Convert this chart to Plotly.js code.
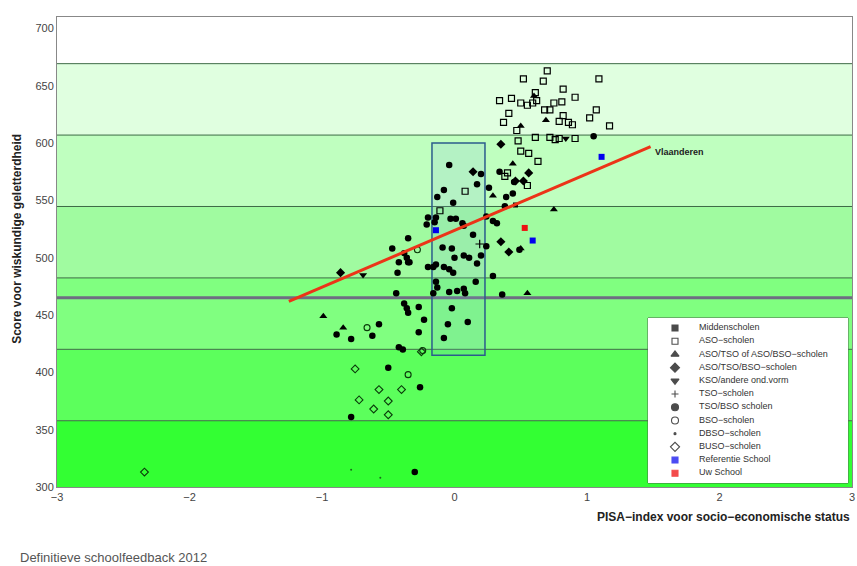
<!DOCTYPE html>
<html><head><meta charset="utf-8">
<script src="https://cdn.plot.ly/plotly-3.0.1.min.js"></script>
<style>html,body{margin:0;padding:0;background:#fff}#chart{width:857px;height:566px}</style>
</head><body><div id="chart"></div>
<script>
// ---- data ----
const asoX = [0.70,0.52,1.09,0.67,0.61,0.82,0.34,0.43,0.50,0.55,0.59,0.62,0.75,0.81,0.91,0.72,0.68,0.41,0.37,0.82,0.86,0.89,0.79,1.02,1.07,1.17,0.47,0.61,0.72,0.76,0.79,0.91,0.48,0.50,0.56,0.63,0.38,0.40,0.55,0.08,-0.11];
const asoY = [663,656,656,654,644,647,637,639,635,633,635,637,635,636,640,629,629,626,618,624,618,616,619,622,629,615,611,605,605,603,604,604,602,593,591,584,571,574,563,558,541];
const triX = [0.60,0.69,0.50,0.44,0.29,0.75,0.50,0.55,-0.99,-0.84];
const triY = [641,620,615,582,554,542,508,469,449,439];
const diaX = [0.35,0.56,0.52,0.14,0.41,0.35,-0.86,0.46];
const diaY = [599,574,567,575,505,514,487,567];
const ksoX = [0.84,-0.69];
const ksoY = [604,485];
const tsoX = [0.19];
const tsoY = [512];
const midX = [0.46];
const midY = [546];
const bsoX = [-0.28,-0.66,-0.24,-0.35];
const bsoY = [507,439,419,398];
const dbsoX = [-0.78,-0.56];
const dbsoY = [315,308];
const busoX = [-2.34,-0.75,-0.57,-0.40,-0.72,-0.50,-0.61,-0.50,-0.25];
const busoY = [313,403,385,385,376,375,368,363,418];
const refX = [1.11,-0.14,0.59];
const refY = [588,524,515];
const uwX = [0.53];
const uwY = [526];
const tbX = [1.05,-0.04,0.20,0.34,0.17,0.26,-0.08,0.44,0.39,-0.13,-0.01,0.38,-0.20,-0.14,-0.03,0.01,0.24,0.29,0.32,-0.21,0.06,-0.15,0.07,-0.35,0.14,-0.09,-0.02,0.24,-0.38,0.07,0.11,0.00,0.20,-0.20,-0.16,-0.08,-0.35,0.17,-0.47,-0.36,-0.42,-0.34,-0.43,-0.14,-0.04,-0.01,-0.14,-0.13,0.16,0.29,-0.44,-0.16,-0.04,0.02,0.07,0.08,0.36,-0.38,-0.36,-0.35,-0.27,-0.02,-0.23,-0.57,-0.05,0.10,-0.89,-0.62,-0.27,-0.08,-0.78,-0.42,-0.39,-0.50,-0.26,-0.78,-0.30,0.45,0.49];
const tbY = [606,581,573,575,564,561,559,556,553,553,548,545,535,535,534,534,536,532,530,529,530,531,528,517,520,509,508,510,504,502,500,500,502,492,492,492,496,495,508,500,496,496,487,494,490,487,479,474,479,484,469,469,470,471,473,469,468,460,456,452,457,456,446,442,442,444,433,432,435,430,429,422,420,404,387,361,313,566,507];
const regX = [-1.25, 1.48];
const regY = [462, 597];
const levelBounds = [300, 357.8, 420.1, 482.4, 544.7, 607.0, 669.3, 710];
const bandColors = ['#33ff33','#5cff5c','#80ff80','#a0fba0','#bfffbf','#e0ffe0','#ffffff'];
const refLine = 465;
const boxX = [-0.17, 0.23];
const boxY = [415, 600];
const xTicks = [-3,-2,-1,0,1,2,3];
const yTicks = [300,350,400,450,500,550,600,650,700];
const legendLabels = ['Middenscholen','ASO−scholen','ASO/TSO of ASO/BSO−scholen','ASO/TSO/BSO−scholen','KSO/andere ond.vorm','TSO−scholen','TSO/BSO scholen','BSO−scholen','DBSO−scholen','BUSO−scholen','Referentie School','Uw School'];
const legendSymbols = ['square','square-open','triangle-up','diamond','triangle-down','cross-thin-open','circle','circle-open','circle','diamond-open','square','square'];
const legendColors = ['#000','#000','#000','#000','#000','#000','#000','#000','#000','#000','#0000ee','#ee0000'];
const legendSizes = [6,6,7,7,7,5,7,7,2,7,6,6];

// ---- traces ----
function sc(x, y, symbol, color, size, lw) {
  return {x, y, type:'scatter', mode:'markers', showlegend:false, hoverinfo:'skip',
    marker:{symbol, color, size, line:{width: lw||0, color}}};
}
const traces = [
  sc(asoX, asoY, 'square-open', '#000', 6, 1.2),
  sc(triX, triY, 'triangle-up', '#000', 7),
  sc(diaX, diaY, 'diamond', '#000', 7),
  sc(ksoX, ksoY, 'triangle-down', '#000', 7),
  sc(tsoX, tsoY, 'cross-thin-open', '#000', 6, 1.2),
  sc(midX, midY, 'square', '#000', 5),
  sc(tbX, tbY, 'circle', '#000', 6.5),
  sc(bsoX, bsoY, 'circle-open', '#0a3a0a', 6, 1.1),
  sc(dbsoX, dbsoY, 'circle', '#1a6a1a', 2),
  sc(busoX, busoY, 'diamond-open', '#0a3a0a', 6, 1.1),
  {x:regX, y:regY, type:'scatter', mode:'lines', showlegend:false, hoverinfo:'skip',
    line:{color:'#ec3418', width:3}},
  sc(refX, refY, 'square', '#0000ee', 6),
  sc(uwX, uwY, 'square', '#ee1111', 6),
  // legend markers (secondary axes)
  {x: legendLabels.map(()=>0), y: legendLabels.map((_,i)=>i), xaxis:'x2', yaxis:'y2',
    type:'scatter', mode:'markers', showlegend:false, hoverinfo:'skip',
    marker:{symbol:legendSymbols, color:legendColors, size:legendSizes, line:{width:1.1, color:legendColors}}},
  {x: legendLabels.map(()=>24), y: legendLabels.map((_,i)=>i), xaxis:'x2', yaxis:'y2',
    type:'scatter', mode:'text', text: legendLabels, textposition:'middle right', showlegend:false, hoverinfo:'skip',
    textfont:{family:'Liberation Sans, Arial, sans-serif', size:9, color:'#333'}}
];

// ---- shapes ----
const shapes = [];
for (let i = 0; i < bandColors.length; i++) {
  shapes.push({type:'rect', xref:'paper', yref:'y', x0:0, x1:1, y0:levelBounds[i], y1:levelBounds[i+1],
    fillcolor:bandColors[i], line:{width:0}, layer:'below'});
}
for (let i = 1; i < levelBounds.length - 1; i++) {
  shapes.push({type:'line', xref:'paper', yref:'y', x0:0, x1:1, y0:levelBounds[i], y1:levelBounds[i],
    line:{color:'#3d6b45', width:1}, layer:'below'});
}
shapes.push({type:'line', xref:'paper', yref:'y', x0:0, x1:1, y0:refLine, y1:refLine,
  line:{color:'#6e6e82', width:3}, layer:'below'});
shapes.push({type:'rect', xref:'x', yref:'y', x0:boxX[0], x1:boxX[1], y0:boxY[0], y1:boxY[1],
  fillcolor:'rgba(120,170,230,0.15)', line:{color:'#2b5c8c', width:1.5}, layer:'below'});
// legend box
shapes.push({type:'rect', xref:'x2 domain', yref:'y2 domain', x0:0, x1:1, y0:0, y1:1,
  fillcolor:'#ffffff', line:{color:'#4a6a4a', width:1}, layer:'below'});

const F = 'Liberation Sans, Arial, sans-serif';
const layout = {
  width:857, height:566,
  margin:{l:57, r:5, t:17, b:79, pad:0},
  paper_bgcolor:'#fff', plot_bgcolor:'#fff',
  font:{family:F, size:11, color:'#444'},
  showlegend:false,
  xaxis:{range:[-3,3], tickvals:xTicks, showgrid:false, zeroline:false, showline:true, mirror:true,
    linecolor:'#888', linewidth:1, ticks:'', tickfont:{size:11, color:'#444'}, domain:[0,1], fixedrange:true},
  yaxis:{range:[300,710], tickvals:yTicks, showgrid:false, zeroline:false, showline:true, mirror:true,
    linecolor:'#888', linewidth:1, ticks:'', tickfont:{size:11, color:'#444'}, domain:[0,1], fixedrange:true},
  xaxis2:{domain:[0.7434,0.995], range:[-27,173], visible:false, anchor:'y2', fixedrange:true},
  yaxis2:{domain:[0.0085,0.3596], range:[11.74,-0.76], visible:false, anchor:'x2', fixedrange:true},
  shapes,
  annotations:[
    {xref:'x', yref:'y', x:regX[1], y:regY[1], text:'<b>Vlaanderen</b>', showarrow:false,
      xanchor:'left', yanchor:'top', xshift:2, yshift:2, font:{family:F, size:9, color:'#222'}},
    {xref:'paper', yref:'paper', x:1, y:-0.064, text:'<b>PISA−index voor socio−economische status</b>',
      showarrow:false, xanchor:'right', yanchor:'middle', font:{family:F, size:12, color:'#222'}},
    {xref:'paper', yref:'paper', x:-0.0503, y:0.528, text:'<b>Score voor wiskundige geletterdheid</b>',
      textangle:-90, showarrow:false, xanchor:'center', yanchor:'middle', font:{family:F, size:12, color:'#222'}},
    {xref:'paper', yref:'paper', x:-0.049, y:-0.151, text:'Definitieve schoolfeedback 2012',
      showarrow:false, xanchor:'left', yanchor:'middle', font:{family:F, size:13, color:'#555'}}
  ]
};
Plotly.newPlot('chart', traces, layout, {staticPlot:true, displayModeBar:false});
</script></body></html>
